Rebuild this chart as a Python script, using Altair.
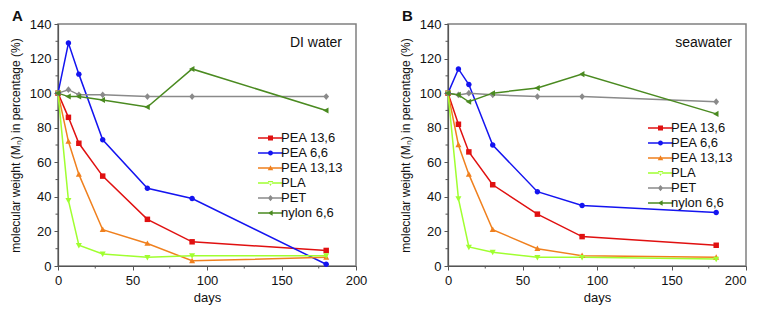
import altair as alt
import pandas as pd

days = [0, 7, 14, 30, 60, 90, 180]
series = ["PEA 13,6", "PEA 6,6", "PEA 13,13", "PLA", "PET", "nylon 6,6"]
colors = ["#e01010", "#1414f0", "#f0801e", "#a0ff30", "#8a8a8a", "#4a8a20"]

# DI water (panel A)
a_pea136 = [100, 86, 71, 52, 27, 14, 9]
a_pea66 = [100, 129, 111, 73, 45, 39, 1]
a_pea1313 = [100, 72, 53, 21, 13, 3, 5]
a_pla = [100, 38, 12, 7, 5, 6, 6]
a_pet = [100, 102, 99, 99, 98, 98, 98]
a_nylon = [100, 98, 98, 96, 92, 114, 90]

# seawater (panel B)
b_pea136 = [100, 82, 66, 47, 30, 17, 12]
b_pea66 = [100, 114, 105, 70, 43, 35, 31]
b_pea1313 = [100, 70, 53, 21, 10, 6, 5]
b_pla = [100, 39, 11, 8, 5, 5, 4]
b_pet = [100, 99, 100, 99, 98, 98, 95]
b_nylon = [100, 99, 95, 100, 103, 111, 88]

x_major = [0, 50, 100, 150, 200]
y_major = [0, 20, 40, 60, 80, 100, 120, 140]
x_minor = [25, 75, 125, 175]
y_minor = [10, 30, 50, 70, 90, 110, 130]

marker_paths = [
    "M-1,-1H1V1H-1Z",
    "M1,0A1,1 0 1,1 -1,0A1,1 0 1,1 1,0Z",
    "M0,-1.15L1.1,0.85H-1.1Z",
    "M0,1.15L1.1,-0.85H-1.1Z",
    "M0,-1.25L1.05,0L0,1.25L-1.05,0Z",
    "M-1.15,0L0.85,-1.1V1.1Z",
]
LEGEND_LINE = "M-5,-0.3H5V0.3H-5Z"
legend_paths = [LEGEND_LINE + p for p in marker_paths]

FONT = "Liberation Sans"
YTITLE = "molecular weight (Mₙ) in percentage (%)"


def make_df(vals):
    rows = []
    for s, v in zip(series, vals):
        for d, y in zip(days, v):
            rows.append({"days": d, "value": y, "series": s})
    return pd.DataFrame(rows)


def panel(vals, label, note, legend_y, last_right):
    df = make_df(vals)
    xs = alt.Scale(domain=[0, 200], nice=False)
    ys = alt.Scale(domain=[0, 140], nice=False)
    xalign = "center"
    if last_right:
        xalign = {"condition": {"test": "datum.value == 200", "value": "right"}, "value": "center"}
    xax = alt.Axis(values=x_major, title="days", grid=False, labelAlign=xalign,
                   tickSize=4, labelPadding=4, titlePadding=4, labelOverlap=False)
    yax = alt.Axis(values=y_major, title=YTITLE, grid=False,
                   tickSize=4, labelPadding=3, labelOverlap=False,
                   titleX=-36, titleY=121, titleAngle=270, titleAlign="center",
                   titleBaseline="bottom")
    cscale = alt.Scale(domain=series, range=colors)
    sscale = alt.Scale(domain=series, range=legend_paths)
    leg = alt.Legend(
        title=None, orient="none", legendX=206, legendY=legend_y,
        symbolSize=25, labelOffset=4, labelFontSize=13, labelFont=FONT,
        rowPadding=1, padding=0, labelColor="#111", symbolStrokeWidth=0,
        symbolOpacity=1,
    )
    base = alt.Chart(df)
    legdf = pd.DataFrame({"series": series})
    legpts = alt.Chart(legdf).mark_point(filled=True, size=25, clip=True).encode(
        x=alt.value(149),
        y=alt.value(252),
        color=alt.Color("series:N", scale=cscale, legend=leg),
        shape=alt.Shape("series:N", scale=sscale, legend=leg),
    )
    lines = base.mark_line(strokeWidth=1.5).encode(
        x=alt.X("days:Q", scale=xs, axis=xax),
        y=alt.Y("value:Q", scale=ys, axis=yax),
        color=alt.Color("series:N", scale=cscale, legend=leg),
        detail="series:N",
    )
    pt_layers = []
    for s, p in zip(series, marker_paths):
        pt_layers.append(
            base.transform_filter(alt.datum.series == s)
            .mark_point(filled=True, size=30, strokeWidth=0, opacity=1, shape=p)
            .encode(
                x=alt.X("days:Q", scale=xs, axis=xax),
                y=alt.Y("value:Q", scale=ys, axis=yax),
                color=alt.Color("series:N", scale=cscale, legend=leg),
            )
        )
    xm = alt.Chart(pd.DataFrame({"days": x_minor})).mark_rule(color="#555", strokeWidth=1).encode(
        x=alt.X("days:Q", scale=xs, axis=xax), y=alt.value(242), y2=alt.value(244.5))
    ym = alt.Chart(pd.DataFrame({"value": y_minor})).mark_rule(color="#555", strokeWidth=1).encode(
        y=alt.Y("value:Q", scale=ys, axis=yax), x=alt.value(-2.5), x2=alt.value(0))
    txt = alt.Chart(pd.DataFrame({"t": [note]})).mark_text(
        align="right", baseline="middle", fontSize=14, font=FONT, color="#111"
    ).encode(text="t:N", x=alt.value(284), y=alt.value(19))
    lab = alt.Chart(pd.DataFrame({"t": [label]})).mark_text(
        align="left", baseline="top", fontSize=15, fontWeight="bold", font=FONT, color="#111"
    ).encode(text="t:N", x=alt.value(-46), y=alt.value(-15))
    return alt.layer(legpts, lines, *pt_layers, xm, ym, txt, lab).properties(
        width=298, height=242,
    )


pa = panel([a_pea136, a_pea66, a_pea1313, a_pla, a_pet, a_nylon], "A", "DI water", 107.5, False)
pb = panel([b_pea136, b_pea66, b_pea1313, b_pla, b_pet, b_nylon], "B", "seawater", 97.5, True)

chart = alt.hconcat(pa, pb, spacing=30).resolve_scale(
    color="independent", shape="independent"
).resolve_legend(color="independent", shape="independent").properties(
    padding={"left": 0, "top": 0, "right": 0, "bottom": 0}
).configure_view(
    stroke="#808080", strokeWidth=1.5
).configure_axis(
    labelFont=FONT, titleFont=FONT, labelFontSize=13, titleFontSize=12,
    labelColor="#111", titleColor="#111", titleFontWeight="normal",
    domainColor="#555", tickColor="#555", domainWidth=1.2, tickWidth=1,
).configure_axisX(titleFontSize=13)

chart.save("out.html", embed_options={"renderer": "svg", "actions": False})
